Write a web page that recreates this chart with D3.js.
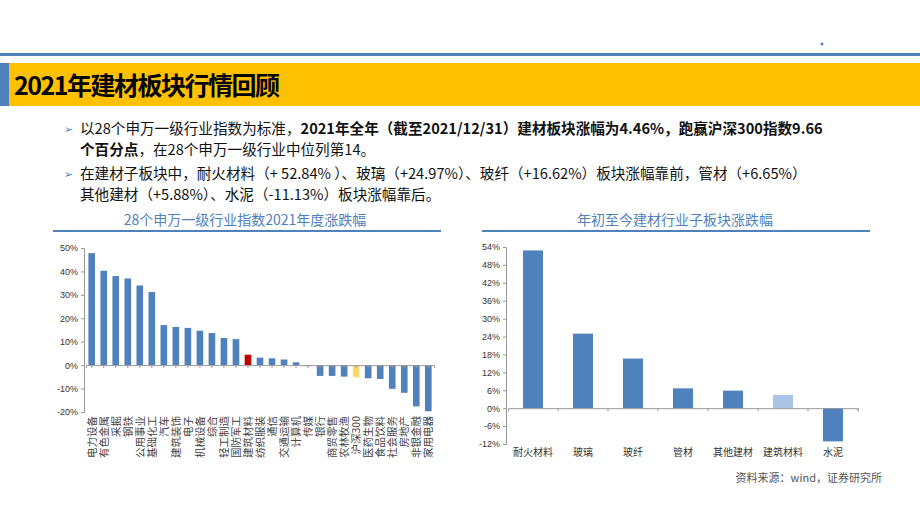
<!DOCTYPE html>
<html><head><meta charset="utf-8">
<script src="https://cdn.jsdelivr.net/npm/d3@7"></script>
<style>body{margin:0;background:#fff;font-family:"Noto Sans CJK SC","Noto Sans",sans-serif}</style>
</head><body>
<svg id="c" width="920" height="518"></svg>
<script>
// left chart data
var industries = ["电力设备","有色金属","采掘","钢铁","公用事业","基础化工","汽车","建筑装饰","电子","机械设备","综合","轻工制造","国防军工","建筑材料","纺织服装","通信","交通运输","计算机","传媒","银行","商贸零售","农林牧渔","沪深300","医药生物","食品饮料","社会服务","房地产","非银金融","家用电器"];
var industryChange = [47.8,40.3,38.0,37.0,34.0,31.2,17.1,16.3,15.9,14.7,13.7,11.6,11.1,4.46,3.2,2.9,2.4,1.2,-0.4,-4.6,-4.6,-4.9,-5.2,-5.6,-5.9,-10.1,-11.8,-17.6,-19.7];
var leftTicks = [-20,-10,0,10,20,30,40,50];
// right chart data
var subSectors = ["耐火材料","玻璃","玻纤","管材","其他建材","建筑材料","水泥"];
var subChange = [52.84,24.97,16.62,6.65,5.88,4.46,-11.13];
var rightTicks = [-12,-6,0,6,12,18,24,30,36,42,48,54];

var svg = d3.select("#c");
var blue = "#4f81bd";

// header
svg.append("rect").attr("x",0).attr("y",53).attr("width",920).attr("height",3).attr("fill","#4f81bd");
svg.append("rect").attr("x",0).attr("y",63).attr("width",920).attr("height",43).attr("fill","#ffc000");
svg.append("rect").attr("x",0).attr("y",63).attr("width",9).attr("height",43).attr("fill","#4f81bd");
svg.append("circle").attr("cx",822).attr("cy",44).attr("r",1.5).attr("fill","#4f81bd");
svg.append("text").attr("x",14).attr("y",95).attr("font-size",25).attr("font-weight","bold")
  .attr("letter-spacing",-1.5).text("2021年建材板块行情回顾");

// bullets
var t = svg.append("g").attr("font-size",14.6).attr("fill","#111");
function line(x,y,parts){
  var tx = t.append("text").attr("x",x).attr("y",y);
  parts.forEach(function(p){ tx.append("tspan").attr("font-weight",p[1]?"bold":"normal").text(p[0]); });
}
t.append("text").attr("x",64).attr("y",133).attr("fill","#4f81bd").attr("font-size",11).text("➢");
t.append("text").attr("x",64).attr("y",178).attr("fill","#4f81bd").attr("font-size",11).text("➢");
line(80,134,[["以28个申万一级行业指数为标准，",0],["2021年全年（截至2021/12/31）建材板块涨幅为4.46%，跑赢沪深300指数9.66",1]]);
line(80,155,[["个百分点",1],["，在28个申万一级行业中位列第14。",0]]);
line(80,179,[["在建材子板块中，耐火材料（+ 52.84% ）、玻璃（+24.97%）、玻纤（+16.62%）板块涨幅靠前，管材（+6.65%）",0]]);
line(80,200,[["其他建材（+5.88%）、水泥（-11.13%）板块涨幅靠后。",0]]);

// chart titles
svg.append("text").attr("x",245).attr("y",225).attr("text-anchor","middle").attr("fill","#4f81bd").attr("font-size",14).text("28个申万一级行业指数2021年度涨跌幅");
svg.append("text").attr("x",675).attr("y",225).attr("text-anchor","middle").attr("fill","#4f81bd").attr("font-size",14).text("年初至今建材行业子板块涨跌幅");
svg.append("rect").attr("x",53).attr("y",230).attr("width",388).attr("height",2).attr("fill","#4f81bd");
svg.append("rect").attr("x",482).attr("y",230).attr("width",388).attr("height",2).attr("fill","#4f81bd");

// left chart
var lx = d3.scaleBand().domain(industries).range([86,434]).paddingInner(0.45).paddingOuter(0.2);
var ly = d3.scaleLinear().domain([-20,50]).range([412,248]);
var gl = svg.append("g");
gl.selectAll("rect").data(industries).enter().append("rect")
  .attr("x",function(d){return lx(d);}).attr("width",lx.bandwidth())
  .attr("y",function(d,i){return ly(Math.max(0,industryChange[i]));})
  .attr("height",function(d,i){return Math.abs(ly(industryChange[i])-ly(0));})
  .attr("fill",function(d){return d=="建筑材料"?"#c00000":d=="沪深300"?"#ffd966":blue;});
var la = svg.append("g").attr("transform","translate(84,0)")
  .call(d3.axisLeft(ly).tickValues(leftTicks).tickFormat(function(d){return d+"%";}).tickSize(3));
la.selectAll("text").attr("font-size",9).attr("fill","#333").attr("font-family","Liberation Sans, Arial");
la.select(".domain").attr("stroke","#999");la.selectAll("line").attr("stroke","#999");
var lz = svg.append("g").attr("transform","translate(0,"+ly(0)+")")
  .call(d3.axisBottom(lx).tickSize(3).tickFormat(""));
lz.select(".domain").attr("stroke","#999");lz.selectAll("line").attr("stroke","#999");
svg.append("g").selectAll("text").data(industries).enter().append("text")
  .attr("transform",function(d){return "translate("+(lx(d)+lx.bandwidth()/2+4)+",416) rotate(-90)";})
  .attr("text-anchor","end").attr("font-size",10.5).attr("fill","#444").text(function(d){return d;});

// right chart
var rx = d3.scaleBand().domain(subSectors).range([508,858]).paddingInner(0.6).paddingOuter(0.3);
var ry = d3.scaleLinear().domain([-12,54]).range([444,247]);
var gr = svg.append("g");
gr.selectAll("rect").data(subSectors).enter().append("rect")
  .attr("x",function(d){return rx(d);}).attr("width",rx.bandwidth())
  .attr("y",function(d,i){return ry(Math.max(0,subChange[i]));})
  .attr("height",function(d,i){return Math.abs(ry(subChange[i])-ry(0));})
  .attr("fill",function(d){return d=="建筑材料"?"#a9c4e4":blue;});
var ra = svg.append("g").attr("transform","translate(506,0)")
  .call(d3.axisLeft(ry).tickValues(rightTicks).tickFormat(function(d){return d+"%";}).tickSize(3));
ra.selectAll("text").attr("font-size",9).attr("fill","#333").attr("font-family","Liberation Sans, Arial");
ra.select(".domain").attr("stroke","#999");ra.selectAll("line").attr("stroke","#999");
var rz = svg.append("g").attr("transform","translate(0,"+ry(0)+")")
  .call(d3.axisBottom(rx).tickSize(3).tickFormat("")
    .tickValues(subSectors));
rz.select(".domain").attr("stroke","#999");rz.selectAll("line").attr("stroke","#999")
  .attr("transform","translate("+(rx.step()/2)+",0)");
svg.append("g").selectAll("text").data(subSectors).enter().append("text")
  .attr("x",function(d){return rx(d)+rx.bandwidth()/2;}).attr("y",456)
  .attr("text-anchor","middle").attr("font-size",10).attr("fill","#333").text(function(d){return d;});

// source
svg.append("text").attr("x",882).attr("y",482).attr("text-anchor","end").attr("font-size",11).attr("fill","#555").text("资料来源：wind，证券研究所");
</script>
</body></html>
